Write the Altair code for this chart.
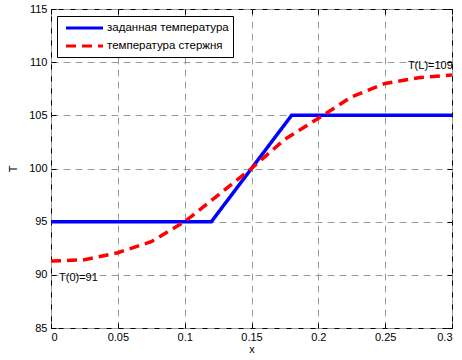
import altair as alt
import pandas as pd

# --- data ---
series_names = ["заданная температура", "температура стержня"]

x_set = [0.0, 0.12, 0.18, 0.3]
T_set = [95.0, 95.0, 105.0, 105.0]

x_rod = [0.0, 0.025, 0.05, 0.075, 0.1, 0.125, 0.15, 0.175, 0.2, 0.225, 0.25, 0.275, 0.3]
T_rod = [91.3, 91.42, 92.08, 93.12, 95.0, 97.5, 100.0, 102.75, 104.72, 106.75, 108.0, 108.54, 108.8]

x_ticks = [0, 0.05, 0.1, 0.15, 0.2, 0.25, 0.3]
y_ticks = [85, 90, 95, 100, 105, 110, 115]

ann_x = [0.006, 0.267]
ann_T = [89.7, 109.6]
ann_text = ["T(0)=91", "T(L)=109"]

W, H = 401, 319
FONT = "Liberation Sans"

df = pd.concat([
    pd.DataFrame({"x": x_set, "T": T_set, "series": series_names[0], "order": range(len(x_set))}),
    pd.DataFrame({"x": x_rod, "T": T_rod, "series": series_names[1], "order": range(len(x_rod))}),
], ignore_index=True)
ann = pd.DataFrame({"x": ann_x, "T": ann_T, "label": ann_text})

xs = alt.Scale(domain=[0, 0.3], nice=False, zero=False)
ys = alt.Scale(domain=[85, 115], nice=False, zero=False)

grid_kw = dict(grid=True, gridColor="#9a9a9a", gridDash=[7, 5], gridWidth=1)
lab_kw = dict(labelFont=FONT, labelFontSize=11, labelColor="black",
              titleFont=FONT, titleFontSize=11, titleFontWeight="normal", titleColor="black")

x_main = alt.Axis(values=x_ticks, format=".2~f", ticks=False, domain=False,
                  labelPadding=3, title="x", titlePadding=1, **grid_kw, **lab_kw)
y_main = alt.Axis(values=y_ticks, ticks=False, domain=False, labelPadding=4,
                  title="T", titlePadding=10, **grid_kw, **lab_kw)

tick_kw = dict(labels=False, domain=False, grid=False, ticks=True, tickColor="black",
               tickSize=5, tickWidth=1, title=None)

leg = alt.Legend(title=None, orient="none", legendX=6, legendY=7,
                 fillColor="white", strokeColor="black", padding=4,
                 symbolType="M-0.5,0H5.67", symbolSize=144, symbolStrokeWidth=3.2,
                 labelFont=FONT, labelFontSize=11.5, labelColor="black", rowPadding=3,
                 labelOffset=30)

lines = alt.Chart(df).mark_line(strokeWidth=3.5, clip=True).encode(
    x=alt.X("x:Q", scale=xs, axis=x_main),
    y=alt.Y("T:Q", scale=ys, axis=y_main),
    color=alt.Color("series:N", scale=alt.Scale(domain=series_names, range=["#0000ff", "#ff0000"]), legend=leg),
    strokeDash=alt.StrokeDash("series:N", scale=alt.Scale(domain=series_names, range=[[1, 0], [10, 6]]), legend=leg),
    order="order:Q",
)

ticks_a = alt.Chart(df).mark_point(opacity=0).encode(
    x=alt.X("x:Q", scale=xs, axis=alt.Axis(orient="top", offset=-H, values=x_ticks, **tick_kw)),
    y=alt.Y("T:Q", scale=ys, axis=alt.Axis(orient="right", offset=-W, values=y_ticks, **tick_kw)),
)
ticks_b = alt.Chart(df).mark_point(opacity=0).encode(
    x=alt.X("x:Q", scale=xs, axis=alt.Axis(orient="bottom", offset=-H, values=x_ticks, **tick_kw)),
    y=alt.Y("T:Q", scale=ys, axis=alt.Axis(orient="left", offset=-W, values=y_ticks, **tick_kw)),
)

texts = alt.Chart(ann).mark_text(align="left", baseline="middle", font=FONT, fontSize=11, color="black").encode(
    x=alt.X("x:Q", scale=xs, axis=None),
    y=alt.Y("T:Q", scale=ys, axis=None),
    text="label:N",
)

chart = alt.layer(lines, texts, ticks_a, ticks_b).resolve_axis(
    x="independent", y="independent"
).properties(
    width=W, height=H,
    autosize=alt.AutoSizeParams(type="none"),
    padding={"left": 51, "top": 9, "right": 10, "bottom": 32},
    background="white",
).configure_view(stroke="black", strokeWidth=1)

chart.save("out.html", embed_options={"renderer": "svg", "actions": False})
